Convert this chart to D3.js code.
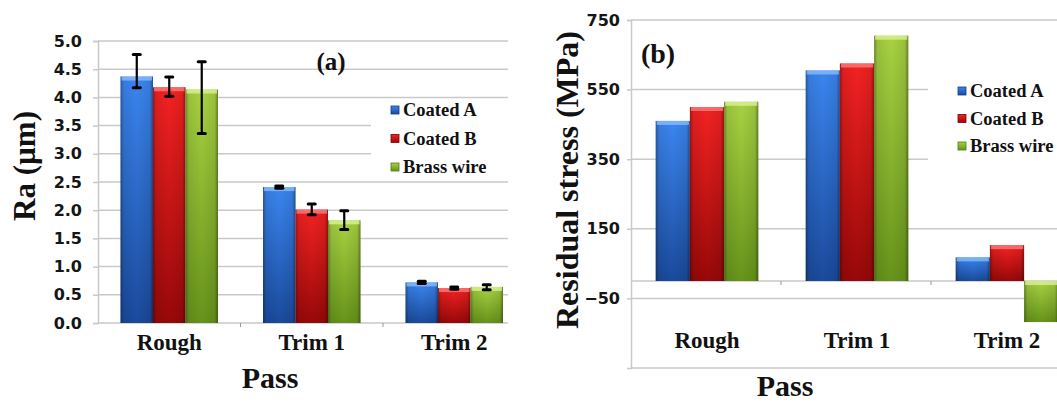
<!DOCTYPE html>
<html>
<head>
<meta charset="utf-8">
<script src="https://cdn.jsdelivr.net/npm/d3@7"></script>
<style>
  html, body { margin: 0; padding: 0; background: #fff; }
  svg { display: block; }
  .tick-label { font-family: "DejaVu Sans", sans-serif; font-weight: bold; font-size: 16px; fill: #151515; }
  .serif { font-family: "Liberation Serif", "Times New Roman", serif; font-weight: bold; fill: #111; }
</style>
</head>
<body>
<div id="chart"></div>
<script>
// Passes and wire types
const categories = ["Rough", "Trim 1", "Trim 2"];
const series = ["Coated A", "Coated B", "Brass wire"];

// (a) Surface roughness Ra (µm) with asymmetric error bars
const raCoatedA = [4.37, 2.41, 0.72];
const raCoatedB = [4.18, 2.01, 0.62];
const raBrass   = [4.14, 1.82, 0.64];
const raPlusA  = [0.39, 0.02, 0.02];
const raMinusA = [0.20, 0.02, 0.02];
const raPlusB  = [0.18, 0.10, 0.02];
const raMinusB = [0.16, 0.09, 0.02];
const raPlusC  = [0.49, 0.17, 0.04];
const raMinusC = [0.78, 0.16, 0.05];
const raTicks = [0, 0.5, 1, 1.5, 2, 2.5, 3, 3.5, 4, 4.5, 5];

// (b) Residual stress (MPa)
const rsCoatedA = [460, 605, 68];
const rsCoatedB = [500, 625, 103];
const rsBrass   = [515, 705, -118];
const rsTicks = [-50, 150, 350, 550, 750];

const W = 1057, H = 403;
const svg = d3.select("#chart").append("svg").attr("width", W).attr("height", H);
const defs = svg.append("defs");

// Bar shading: bright top fading to a darker base, darker vertical edges
const palette = [
  { top: "#3b86f0", bottom: "#1a4a9c", hi: "#8cc0ff", edge: "#123a80" },
  { top: "#f42222", bottom: "#980808", hi: "#ff8080", edge: "#7a0000" },
  { top: "#a8d242", bottom: "#66941a", hi: "#dcf59a", edge: "#4f7a10" }
];
palette.forEach((p, i) => {
  const g = defs.append("linearGradient").attr("id", "fill" + i)
    .attr("x1", 0).attr("y1", 0).attr("x2", 0).attr("y2", 1);
  g.append("stop").attr("offset", 0).attr("stop-color", p.top);
  g.append("stop").attr("offset", 1).attr("stop-color", p.bottom);
});
const edge = defs.append("linearGradient").attr("id", "edgeShade")
  .attr("x1", 0).attr("y1", 0).attr("x2", 1).attr("y2", 0);
[[0, 0.35], [0.1, 0.08], [0.5, 0], [0.9, 0.08], [1, 0.4]].forEach(([o, a]) =>
  edge.append("stop").attr("offset", o).attr("stop-color", "#000").attr("stop-opacity", a));

const gridColor = "#c9c9c9";

function drawBars(g, x, xs, y, rows) {
  rows.forEach((vals, si) => {
    vals.forEach((v, ci) => {
      const bx = x(categories[ci]) + xs(series[si]);
      const bw = xs.bandwidth();
      const y0 = y(0), y1 = y(v);
      const top = Math.min(y0, y1), h = Math.abs(y1 - y0);
      g.append("rect").attr("x", bx).attr("y", top).attr("width", bw).attr("height", h)
        .attr("fill", `url(#fill${si})`);
      g.append("rect").attr("x", bx).attr("y", top).attr("width", bw).attr("height", h)
        .attr("fill", "url(#edgeShade)");
      g.append("rect").attr("x", bx + 1).attr("y", top).attr("width", bw - 2).attr("height", Math.min(4, h))
        .attr("fill", palette[si].hi).attr("opacity", 0.75);
    });
  });
}

function drawLegend(g, x0, y0, dy, fontSize) {
  series.forEach((s, i) => {
    const cy = y0 + i * dy;
    g.append("rect").attr("x", x0 - 4).attr("y", cy - 4).attr("width", 8).attr("height", 8)
      .attr("fill", `url(#fill${i})`).attr("stroke", palette[i].edge).attr("stroke-width", 0.8);
    g.append("text").attr("class", "serif").attr("x", x0 + 8).attr("y", cy)
      .attr("dy", "0.35em").attr("font-size", fontSize).text(s);
  });
}

// ---------- Panel (a): Ra ----------
{
  const left = 98, top = 41, bottom = 323, clipRight = 508;
  const x = d3.scaleBand().domain(categories).range([left, left + 3 * 142.5])
    .paddingInner(0.316).paddingOuter(0.158);
  const xs = d3.scaleBand().domain(series).range([0, x.bandwidth()]);
  const y = d3.scaleLinear().domain([0, 5]).range([bottom, top]);
  const g = svg.append("g");

  // horizontal gridlines
  g.append("g").selectAll("line").data(raTicks.filter(d => d > 0)).join("line")
    .attr("x1", left).attr("x2", clipRight).attr("y1", d => y(d)).attr("y2", d => y(d))
    .attr("stroke", gridColor).attr("stroke-width", 1.5);

  // legend backdrop hides the gridlines behind it
  g.append("rect").attr("x", 371).attr("y", 104).attr("width", 140).attr("height", 74).attr("fill", "#fff");

  // y axis
  const ya = g.append("g").attr("transform", `translate(${left},0)`)
    .call(d3.axisLeft(y).tickValues(raTicks).tickFormat(d3.format(".1f")).tickSize(5).tickPadding(11));
  ya.select(".domain").attr("stroke", gridColor).attr("stroke-width", 1.5);
  ya.selectAll(".tick line").attr("stroke", gridColor).attr("stroke-width", 1.5);
  ya.selectAll(".tick text").attr("class", "tick-label").attr("font-size", null).attr("font-family", null);

  // category axis with boundary ticks
  g.append("line").attr("x1", left).attr("x2", clipRight).attr("y1", bottom).attr("y2", bottom)
    .attr("stroke", gridColor).attr("stroke-width", 1.5);
  g.append("g").selectAll("line").data([1, 2]).join("line")
    .attr("x1", d => left + d * x.step()).attr("x2", d => left + d * x.step())
    .attr("y1", bottom).attr("y2", bottom + 4).attr("stroke", "#999").attr("stroke-width", 1);
  g.append("g").selectAll("text").data(categories).join("text").attr("class", "serif")
    .attr("x", d => x(d) + x.bandwidth() / 2).attr("y", 350).attr("text-anchor", "middle")
    .attr("font-size", 23).text(d => d);

  drawBars(g, x, xs, y, [raCoatedA, raCoatedB, raBrass]);

  // error bars
  const plus = [raPlusA, raPlusB, raPlusC], minus = [raMinusA, raMinusB, raMinusC];
  const vals = [raCoatedA, raCoatedB, raBrass];
  vals.forEach((vs, si) => vs.forEach((v, ci) => {
    const cx = x(categories[ci]) + xs(series[si]) + xs.bandwidth() / 2;
    const yh = y(v + plus[si][ci]), yl = y(v - minus[si][ci]);
    g.append("line").attr("x1", cx).attr("x2", cx).attr("y1", yh).attr("y2", yl)
      .attr("stroke", "#000").attr("stroke-width", 2.2);
    [yh, yl].forEach(yy => g.append("line").attr("x1", cx - 3.5).attr("x2", cx + 3.5)
      .attr("y1", yy).attr("y2", yy).attr("stroke", "#000").attr("stroke-width", 3)
      .attr("stroke-linecap", "round"));
  }));

  drawLegend(g, 395, 110, 28.5, 18.5);

  g.append("text").attr("class", "serif").attr("x", 331).attr("y", 70).attr("text-anchor", "middle")
    .attr("font-size", 25).text("(a)");
  g.append("text").attr("class", "serif").attr("transform", "translate(35,166) rotate(-90)")
    .attr("text-anchor", "middle").attr("font-size", 31).text("Ra (µm)");
  g.append("text").attr("class", "serif").attr("x", 270).attr("y", 388).attr("text-anchor", "middle")
    .attr("font-size", 30).text("Pass");
}

// ---------- Panel (b): Residual stress ----------
{
  const left = 631, top = 20, bottomAxis = 368, right = W;
  const x = d3.scaleBand().domain(categories).range([left + 1, left + 1 + 3 * 150])
    .paddingInner(0.316).paddingOuter(0.158);
  const xs = d3.scaleBand().domain(series).range([0, x.bandwidth()]);
  const y = d3.scaleLinear().domain([-250, 750]).range([bottomAxis, top]);
  const g = svg.append("g");

  g.append("g").selectAll("line").data(rsTicks.concat([-250])).join("line")
    .attr("x1", left).attr("x2", right).attr("y1", d => y(d)).attr("y2", d => y(d))
    .attr("stroke", gridColor).attr("stroke-width", 1.5);

  g.append("rect").attr("x", 928).attr("y", 76).attr("width", 130).attr("height", 88).attr("fill", "#fff");

  const ya = g.append("g").attr("transform", `translate(${left},0)`)
    .call(d3.axisLeft(y).tickValues(rsTicks).tickFormat(d3.format("d")).tickSize(4).tickPadding(7));
  ya.select(".domain").attr("stroke", gridColor).attr("stroke-width", 1.5);
  ya.selectAll(".tick line").attr("stroke", gridColor).attr("stroke-width", 1.5);
  ya.selectAll(".tick text").attr("class", "tick-label").attr("font-size", null).attr("font-family", null);

  // zero line acts as the category axis
  g.append("line").attr("x1", left).attr("x2", right).attr("y1", y(0)).attr("y2", y(0))
    .attr("stroke", gridColor).attr("stroke-width", 1.5);
  g.append("g").selectAll("line").data([1, 2]).join("line")
    .attr("x1", d => left + d * x.step()).attr("x2", d => left + d * x.step())
    .attr("y1", y(0)).attr("y2", y(0) + 4).attr("stroke", "#999").attr("stroke-width", 1);
  g.append("g").selectAll("text").data(categories).join("text").attr("class", "serif")
    .attr("x", d => x(d) + x.bandwidth() / 2).attr("y", 348).attr("text-anchor", "middle")
    .attr("font-size", 23).text(d => d);

  drawBars(g, x, xs, y, [rsCoatedA, rsCoatedB, rsBrass]);

  drawLegend(g, 962, 91, 27.5, 18.5);

  g.append("text").attr("class", "serif").attr("x", 658).attr("y", 63).attr("text-anchor", "middle")
    .attr("font-size", 28).text("(b)");
  g.append("text").attr("class", "serif").attr("transform", "translate(578,180) rotate(-90)")
    .attr("text-anchor", "middle").attr("font-size", 32).text("Residual stress (MPa)");
  g.append("text").attr("class", "serif").attr("x", 785).attr("y", 396).attr("text-anchor", "middle")
    .attr("font-size", 30).text("Pass");
}
</script>
</body>
</html>
